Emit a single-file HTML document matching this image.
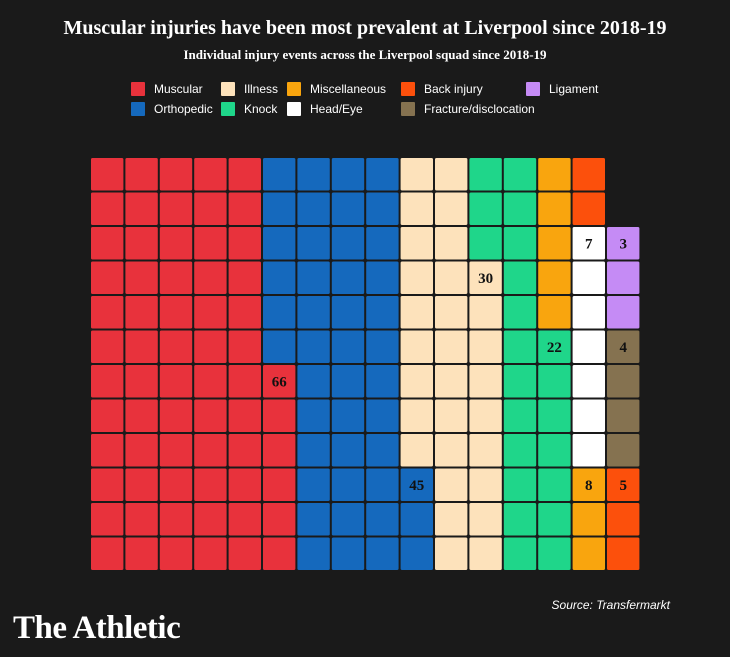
<!DOCTYPE html>
<html><head><meta charset="utf-8"><style>
body{margin:0;background:#1a1a1a;width:730px;height:657px;overflow:hidden;font-family:"Liberation Sans",sans-serif;color:#fff}
#title{position:absolute;top:17px;left:0;width:730px;text-align:center;font-family:"Liberation Serif",serif;font-weight:bold;font-size:20px}
#sub{position:absolute;top:47px;left:0;width:730px;text-align:center;font-family:"Liberation Serif",serif;font-weight:bold;font-size:13px}
.leg{position:absolute;font-size:12px;display:flex;align-items:center}
.leg span{display:inline-block;width:14px;height:14px;margin-right:9px;border-radius:1px}
#src{position:absolute;right:60px;top:598px;font-style:italic;font-size:12px}
#logo{position:absolute;left:13px;top:610px;font-family:"Liberation Serif",serif;font-size:33px;font-weight:bold;letter-spacing:-0.5px}
</style></head><body>
<div id="title">Muscular injuries have been most prevalent at Liverpool since 2018-19</div>
<div id="sub">Individual injury events across the Liverpool squad since 2018-19</div>
<div id="legend"></div>
<svg id="chart" width="730" height="657" style="position:absolute;left:0;top:0"></svg>
<div id="src">Source: Transfermarkt</div>
<div id="logo">The Athletic</div>
<script>
const categories=["Muscular","Orthopedic","Illness","Knock","Miscellaneous","Head/Eye","Back injury","Fracture/disclocation","Ligament"];
const values=[66,45,30,22,8,7,5,4,3];
const colors=["#e8323c","#1569bd","#fde2bb","#1fd68a","#f9a50e","#ffffff","#fc500c","#857250","#c58bf5"];
const legendOrder=[[0,131,90],[2,221,90],[4,287,90],[6,401,90],[8,526,90],[1,131,110],[3,221,110],[5,287,110],[7,401,110]];
const leg=document.getElementById('legend');
legendOrder.forEach(([i,x,y])=>{
  const d=document.createElement('div');d.className='leg';
  
  
  d.style.left=x+'px';d.style.top=(y-8)+'px';
  d.innerHTML='<span style="background:'+colors[i]+'"></span>'+categories[i];
  leg.appendChild(d);
});
const NS='http://www.w3.org/2000/svg',svg=document.getElementById('chart');
const rows=12,x0=91,y0=158,pw=34.4,ph=34.5,gap=2;
let idx=0;
values.forEach((v,ci)=>{
  let last=null;
  for(let k=0;k<v;k++){
    const col=Math.floor(idx/rows),row=rows-1-(idx%rows);idx++;
    const r=document.createElementNS(NS,'rect');
    r.setAttribute('x',x0+col*pw);r.setAttribute('y',y0+row*ph);
    r.setAttribute('width',pw-gap);r.setAttribute('height',ph-gap);r.setAttribute('rx',1.5);
    r.setAttribute('fill',colors[ci]);
    
    
    svg.appendChild(r);last=[col,row];
  }
  const t=document.createElementNS(NS,'text');
  t.setAttribute('x',x0+last[0]*pw+(pw-gap)/2);t.setAttribute('y',y0+last[1]*ph+(ph-gap)/2+5);
  t.setAttribute('text-anchor','middle');t.setAttribute('font-family','Liberation Serif, serif');
  t.setAttribute('font-weight','bold');t.setAttribute('font-size','15');t.setAttribute('fill','#111');
  t.textContent=v;
  
  
  svg.appendChild(t);
});
</script>
</body></html>
